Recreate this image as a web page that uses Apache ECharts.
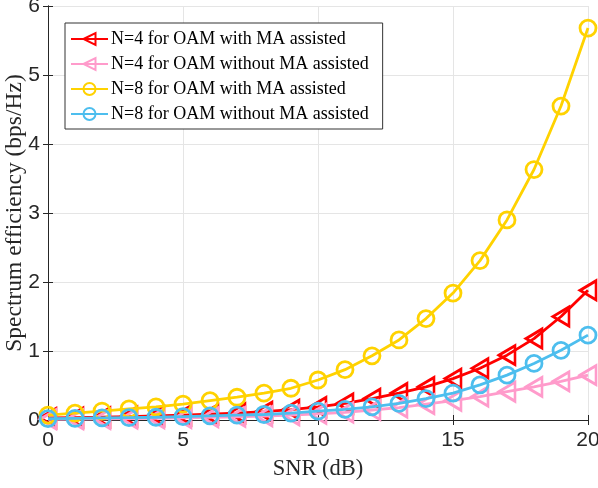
<!DOCTYPE html>
<html><head><meta charset="utf-8">
<script src="https://cdn.jsdelivr.net/npm/echarts@6/dist/echarts.min.js"></script>
<style>html,body{margin:0;padding:0;background:#fff}#c{width:598px;height:488px}</style>
</head><body><div id="c"></div>
<script>
const snr = [0,1,2,3,4,5,6,7,8,9,10,11,12,13,14,15,16,17,18,19,20];
const n4With = [0.03,0.035,0.04,0.05,0.06,0.07,0.085,0.1,0.12,0.15,0.19,0.24,0.31,0.39,0.48,0.60,0.75,0.94,1.18,1.50,1.88];
const n4Without = [0.01,0.012,0.015,0.02,0.025,0.03,0.04,0.045,0.055,0.07,0.09,0.11,0.145,0.18,0.23,0.28,0.34,0.41,0.48,0.56,0.65];
const n8With = [0.07,0.10,0.13,0.16,0.19,0.23,0.28,0.33,0.39,0.46,0.58,0.73,0.93,1.16,1.47,1.84,2.31,2.90,3.63,4.55,5.68];
const n8Without = [0.02,0.025,0.03,0.035,0.04,0.05,0.06,0.07,0.08,0.10,0.13,0.155,0.19,0.24,0.31,0.39,0.51,0.65,0.82,1.01,1.23];
const names = ['N=4 for OAM with MA assisted','N=4 for OAM without MA assisted','N=8 for OAM with MA assisted','N=8 for OAM without MA assisted'];
const colors = ['#FF0000','#FF9BCB','#FFD200','#4DBEEE'];

const chart = echarts.init(document.getElementById('c'));
function mk(i, data, tri){
  return {
    name: names[i], type:'line', data: snr.map((x,k)=>[x,data[k]]),
    symbol: tri ? 'triangle' : 'circle',
    symbolRotate: tri ? 90 : 0,
    symbolSize: tri ? [19,16] : 16,
    lineStyle:{color:colors[i], width:2.8},
    itemStyle:{color:'rgba(255,255,255,0)', borderColor:colors[i], borderWidth:2.8},
    emphasis:{disabled:true}, animation:false, z: 2+i
  };
}
const axisCommon = {
  axisLine:{show:true, lineStyle:{color:'#262626', width:1}},
  axisTick:{show:true, inside:true, length:5, lineStyle:{color:'#262626'}},
};
chart.setOption({
  animation:false,
  grid:{left:48, right:10, top:6, bottom:68, show:false, outerBoundsMode:'none', containLabel:false},
  legend:{
    orient:'vertical', left:65, top:23,
    backgroundColor:'#fff', borderColor:'#333', borderWidth:1,
    padding:[7,14,6,5], itemGap:7, itemWidth:37, itemHeight:15,
    textStyle:{fontFamily:'Liberation Serif', fontSize:18, color:'#000', padding:[0,0,0,-2]},
    data: names
  },
  xAxis:[{
    type:'value', min:0, max:20, interval:5, position:'bottom',
    name:'SNR (dB)', nameLocation:'middle', nameGap:38, nameMoveOverlap:false,
    nameTextStyle:{fontFamily:'Liberation Serif', fontSize:22.5, color:'#262626'},
    axisLabel:{fontFamily:'Liberation Sans', fontSize:21, color:'#262626', margin:10},
    splitLine:{show:true, lineStyle:{color:'#e5e5e5'}},
    ...axisCommon
  },{
    type:'value', min:0, max:20, interval:5, position:'top',
    axisLabel:{show:false}, splitLine:{show:false}, ...axisCommon
  }],
  yAxis:[{
    type:'value', min:0, max:6, interval:1, position:'left',
    name:'Spectrum efficiency (bps/Hz)', nameLocation:'middle', nameGap:21, nameMoveOverlap:false,
    nameTextStyle:{fontFamily:'Liberation Serif', fontSize:23.5, color:'#262626'},
    axisLabel:{fontFamily:'Liberation Sans', fontSize:21, color:'#262626', margin:8},
    splitLine:{show:true, lineStyle:{color:'#e5e5e5'}},
    ...axisCommon
  },{
    type:'value', min:0, max:6, interval:1, position:'right',
    axisLabel:{show:false}, splitLine:{show:false}, ...axisCommon
  }],
  series:[
    mk(0, n4With, true),
    mk(1, n4Without, true),
    mk(2, n8With, false),
    mk(3, n8Without, false)
  ]
});
</script></body></html>
